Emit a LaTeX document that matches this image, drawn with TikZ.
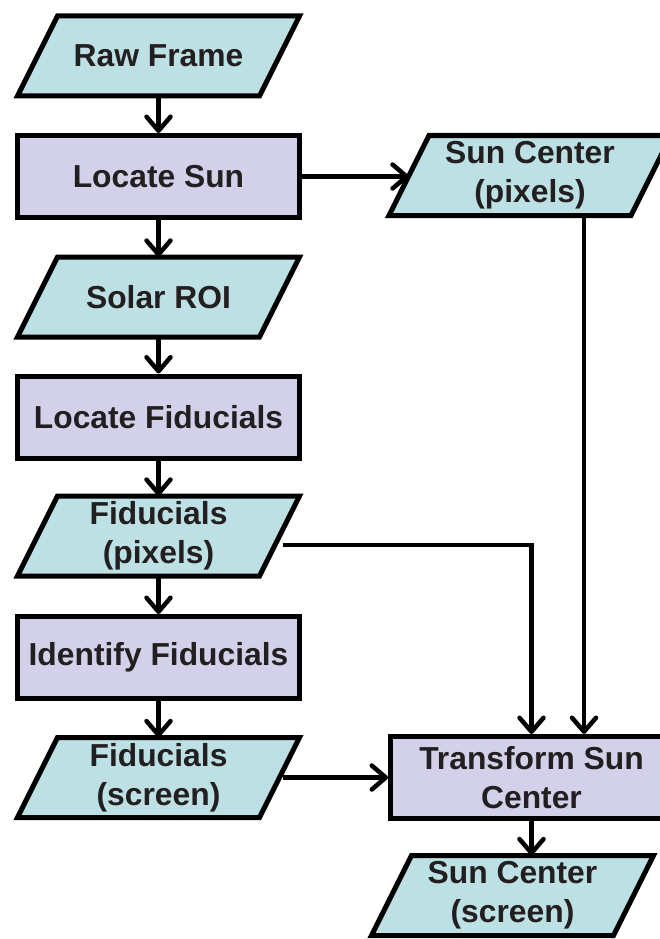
\documentclass[tikz,border=0pt]{standalone}
\usepackage{fontspec}
\setmainfont{Liberation Sans}
\usetikzlibrary{arrows.meta,calc}
\definecolor{iocol}{RGB}{188,224,227}
\definecolor{prcol}{RGB}{211,209,233}
\definecolor{txtcol}{RGB}{35,31,32}
\tikzset{
  base/.style={font=\bfseries\fontsize{31.8}{39}\selectfont, text=txtcol, align=center, inner sep=0pt},
  proc/.style={base, draw=black, fill=prcol, line width=5pt, minimum width=282pt, minimum height=82pt},
  iotext/.style={base, minimum width=242pt, minimum height=80pt},
  iofill/.style={draw=black, fill=iocol, line width=5pt, line join=miter},
  flow/.style={line width=4.5pt, -{Straight Barb[length=14pt,width=24pt,round]}},
}
\newcommand\iobox[4]{%
  \filldraw[iofill] ({#2-101},{#3+40}) -- ({#2+141},{#3+40}) -- ({#2+101},{#3-40}) -- ({#2-141},{#3-40}) -- cycle;
  \node[iotext] (#1) at (#2,#3) {#4};
}
\begin{document}
\begin{tikzpicture}[x=1pt,y=1pt]
\useasboundingbox (0,0) rectangle (660,-939);
\clip (0,0) rectangle (660,-939);
\fill[white] (0,0) rectangle (660,-939);
% left column
\iobox{raw}{158.5}{-56}{Raw Frame}
\node[proc] (ls) at (158.5,-176.5) {Locate Sun};
\iobox{roi}{158.5}{-297}{Solar ROI}
\node[proc] (lf) at (158.5,-417) {Locate Fiducials};
\iobox{fp}{158.5}{-536}{Fiducials\\(pixels)}
\node[proc] (idf) at (158.5,-657.5) {Identify Fiducials};
\iobox{fs}{158.5}{-777.5}{Fiducials\\(screen)}
% right column
\iobox{scp}{530}{-175.5}{Sun Center\\(pixels)}
\node[proc] (tr) at (531.5,-777.5) {Transform Sun\\Center};
\iobox{scs}{512.5}{-895.5}{Sun Center\\(screen)}
% connectors
\draw[flow] (raw) -- (ls);
\draw[flow] (ls) -- (roi);
\draw[flow] (roi) -- (lf);
\draw[flow] (lf) -- (fp);
\draw[flow] (fp) -- (idf);
\draw[flow] (idf) -- (fs);
\draw[flow] (ls.east) -- (ls.east -| scp.west);
\coordinate (scpout) at ([xshift=54pt]scp.south);
\draw[flow] (scpout) -- (scpout |- tr.north);
\coordinate (fpout) at ([xshift=3.5pt,yshift=-9pt]fp.east);
\draw[flow] (fpout) -| (tr.north);
\coordinate (fsout) at ([xshift=3pt]fs.east);
\draw[flow] (fsout) -- (fsout -| tr.west);
\draw[flow] (tr.south) -- (tr.south |- scs.north);
\end{tikzpicture}
\end{document}
